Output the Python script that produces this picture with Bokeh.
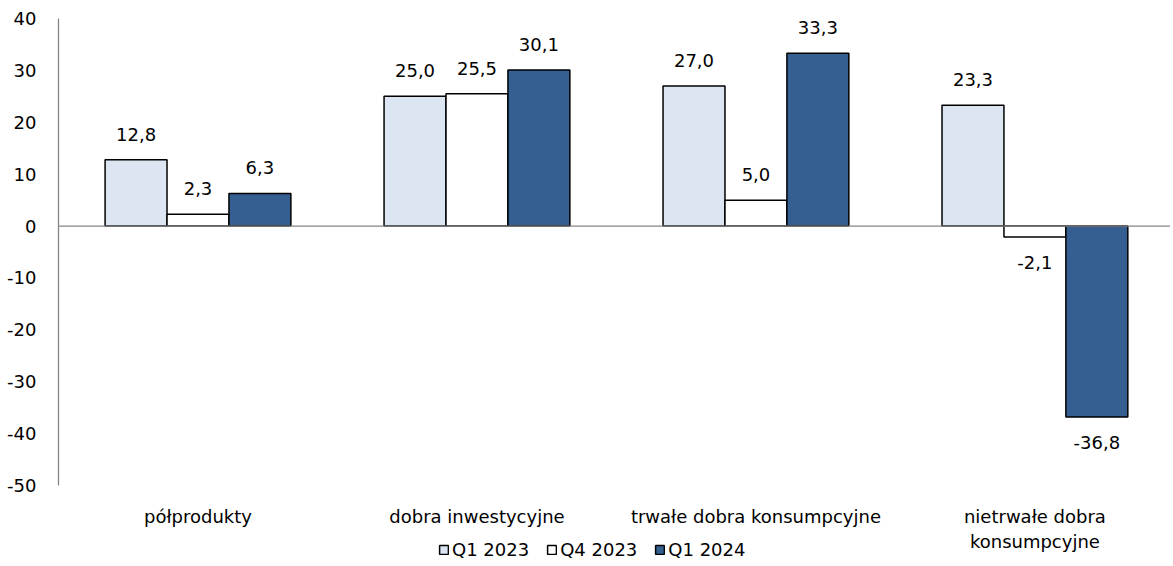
from bokeh.plotting import figure
from bokeh.models import (ColumnDataSource, FixedTicker, Legend, LegendItem, Range1d, Span)
from bokeh.core.properties import value
from bokeh.embed import file_html
from bokeh.resources import INLINE

categories = ["półprodukty", "dobra inwestycyjne", "trwałe dobra konsumpcyjne", "nietrwałe dobra\nkonsumpcyjne"]
series_names = ["Q1 2023", "Q4 2023", "Q1 2024"]
q1_2023 = [12.8, 25.0, 27.0, 23.3]
q4_2023 = [2.3, 25.5, 5.0, -2.1]
q1_2024 = [6.3, 30.1, 33.3, -36.8]
y_ticks = [-50, -40, -30, -20, -10, 0, 10, 20, 30, 40]

colors = ["#DCE6F2", "#FFFFFF", "#365F91"]
offsets = [-0.222, 0.0, 0.222]
bar_w = 0.222
FONT = "DejaVu Sans"
FS = "18px"

Y_MIN, Y_MAX = -50, 40
# frame extends below the value axis so the legend can sit under the category labels
p = figure(width=1170, height=565, output_backend="svg", toolbar_location=None,
           x_range=Range1d(0, 3.986), y_range=Range1d(-65.4, Y_MAX),
           min_border_left=58, min_border_right=0, min_border_top=18, min_border_bottom=0)
p.outline_line_color = None
p.grid.grid_line_color = None
p.background_fill_color = "white"

renderers = []
for name, vals, col, off in zip(series_names, [q1_2023, q4_2023, q1_2024], colors, offsets):
    xs = [i + 0.5 + off for i in range(len(categories))]
    src = ColumnDataSource(dict(
        x=xs, top=vals,
        lbl=[f"{v:.1f}".replace(".", ",") for v in vals],
        base=["bottom" if v >= 0 else "top" for v in vals],
        ly=vals,
        yoff=[-19 if v >= 0 else 19 for v in vals],
    ))
    r = p.vbar(x="x", top="top", bottom=0, width=bar_w, source=src,
               fill_color=col, line_color="black", line_width=1.5)
    renderers.append(r)
    p.text(x="x", y="ly", text="lbl", source=src, y_offset="yoff",
           text_align="center", text_baseline="base",
           text_font=value(FONT), text_font_size=FS, text_color="black")

zero = Span(location=0, dimension="width", line_color="#868686", line_width=1.3)
p.add_layout(zero)

# y axis
yax = p.yaxis[0]
yax.ticker = FixedTicker(ticks=y_ticks)
yax.major_label_overrides = {t: str(t) for t in y_ticks}
yax.bounds = (Y_MIN, Y_MAX)
yax.axis_line_color = "#868686"
yax.axis_line_width = 1.3
yax.major_tick_line_color = None
yax.major_tick_out = 0
yax.major_tick_in = 0
yax.minor_tick_line_color = None
yax.major_label_standoff = 22
yax.major_label_text_font = FONT
yax.major_label_text_font_size = FS
yax.major_label_text_color = "black"

# x axis (drawn at the bottom of the value range)
xax = p.xaxis[0]
xax.fixed_location = Y_MIN
xax.ticker = FixedTicker(ticks=[i + 0.5 for i in range(len(categories))])
xax.major_label_overrides = {i + 0.5: c for i, c in enumerate(categories)}
xax.axis_line_color = None
xax.major_tick_line_color = None
xax.major_tick_out = 0
xax.major_tick_in = 0
xax.minor_tick_line_color = None
xax.major_label_standoff = 20
xax.major_label_text_font = FONT
xax.major_label_text_font_size = FS
xax.major_label_text_color = "black"

legend = Legend(items=[LegendItem(label=n, renderers=[r]) for n, r in zip(series_names, renderers)],
                orientation="horizontal", location=(380, 5),
                glyph_width=11, glyph_height=11, label_standoff=3, spacing=17,
                padding=0, margin=0, border_line_color=None, background_fill_alpha=0,
                label_text_font=FONT, label_text_font_size=FS, label_text_color="black")
p.add_layout(legend, "center")

open("out.html", "w").write(file_html(p, INLINE))
